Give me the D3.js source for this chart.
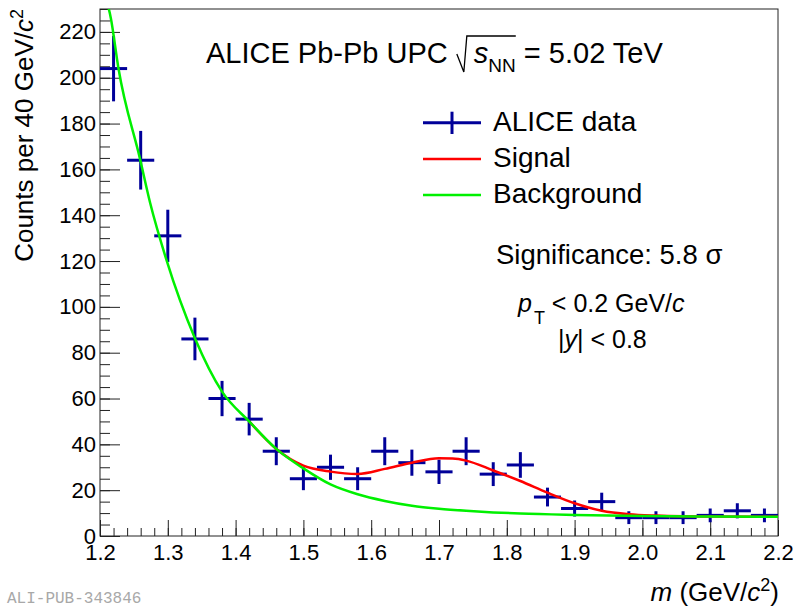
<!DOCTYPE html>
<html>
<head>
<meta charset="utf-8">
<script src="https://cdn.jsdelivr.net/npm/d3@7"></script>
<style>
  body { margin: 0; background: #fff; }
  text { font-family: "Liberation Sans", Arial, Helvetica, sans-serif; fill: #000; }
</style>
</head>
<body>
<div id="chart"></div>
<script>
// bin centres (GeV/c^2), counts and stat. errors
var binCenters = [1.22, 1.26, 1.30, 1.34, 1.38, 1.42, 1.46, 1.50, 1.54, 1.58, 1.62, 1.66, 1.70,
                  1.74, 1.78, 1.82, 1.86, 1.90, 1.94, 1.98, 2.02, 2.06, 2.10, 2.14, 2.18];
var counts = [204, 164, 131, 86, 60, 51, 37, 25, 30, 25, 37, 32, 28,
              37, 27, 31, 17, 12, 15, 8, 8, 8, 9, 11, 9];
var countErrors = [14.3, 12.8, 11.4, 9.3, 7.7, 7.1, 6.1, 5.0, 5.5, 5.0, 6.1, 5.7, 5.3,
                   6.1, 5.2, 5.6, 4.1, 3.5, 3.9, 2.8, 2.8, 2.8, 3.0, 3.3, 3.0];
var binHalfWidth = 0.02;

// fitted curves
var bgMass  = [1.200, 1.216, 1.227, 1.259, 1.274, 1.298, 1.340, 1.380, 1.420, 1.460, 1.500, 1.540,
               1.580, 1.620, 1.660, 1.700, 1.740, 1.780, 1.820, 1.900, 2.000, 2.100, 2.200];
var bgValue = [240, 226, 204.5, 164.6, 145.3, 120.5, 86.3, 63, 50, 38, 29.5, 22.5,
               18.2, 15.3, 13.2, 11.9, 11.0, 10.3, 9.8, 9.2, 8.7, 8.5, 8.4];
var sigMass  = [1.420, 1.460, 1.500, 1.540, 1.580, 1.620, 1.660, 1.700, 1.720, 1.740, 1.780,
                1.820, 1.860, 1.900, 1.940, 1.980, 2.020, 2.060, 2.100, 2.200];
var sigValue = [50, 38, 30.7, 28.1, 27.1, 29.3, 32.0, 33.9, 33.8, 32.9, 28.6,
                24.0, 18.9, 14.3, 11.0, 9.5, 8.9, 8.6, 8.5, 8.4];

var xMajorTicks = [1.2, 1.3, 1.4, 1.5, 1.6, 1.7, 1.8, 1.9, 2.0, 2.1, 2.2];
var yMajorTicks = [0, 20, 40, 60, 80, 100, 120, 140, 160, 180, 200, 220];
var legendLabels = ["ALICE data", "Signal", "Background"];

var svgWidth = 797;
var svgHeight = 608;
var plotLeft = 100;
var plotRight = 778;
var plotTop = 9;
var plotBottom = 536;

var dataColor = "#000099";
var sigColor = "#ff0000";
var bgColor = "#00f000";

var svg = d3.select("#chart")
    .append("svg")
    .attr("width", svgWidth)
    .attr("height", svgHeight);

var xScale = d3.scaleLinear().domain([1.2, 2.2]).range([plotLeft, plotRight]);
var yScale = d3.scaleLinear().domain([0, 230]).range([plotBottom, plotTop]);

svg.append("clipPath")
    .attr("id", "plotClip")
    .append("rect")
    .attr("x", plotLeft)
    .attr("y", plotTop)
    .attr("width", plotRight - plotLeft)
    .attr("height", plotBottom - plotTop);

// minor ticks
var xMinor = d3.range(0, 51).map(i => 1.2 + i * 0.02);
var yMinor = d3.range(0, 47).map(i => i * 5);

svg.append("g")
    .attr("transform", `translate(0,${plotBottom})`)
    .call(d3.axisBottom(xScale).tickValues(xMinor).tickSize(-8).tickFormat(""))
    .call(g => g.select(".domain").remove());
svg.append("g")
    .attr("transform", `translate(${plotLeft},0)`)
    .call(d3.axisLeft(yScale).tickValues(yMinor).tickSize(-10).tickFormat(""))
    .call(g => g.select(".domain").remove());

var xAxisGroup = svg.append("g")
    .attr("transform", `translate(0,${plotBottom})`)
    .call(d3.axisBottom(xScale).tickValues(xMajorTicks).tickSize(-16).tickPadding(8).tickFormat(d3.format(".1f")));
xAxisGroup.select(".domain").remove();
xAxisGroup.selectAll("text")
    .attr("y", 24)
    .attr("dy", 0)
    .style("font-size", "22px")
    .style("font-family", "Liberation Sans, Arial, sans-serif");

var yAxisGroup = svg.append("g")
    .attr("transform", `translate(${plotLeft},0)`)
    .call(d3.axisLeft(yScale).tickValues(yMajorTicks).tickSize(-20).tickPadding(4));
yAxisGroup.select(".domain").remove();
yAxisGroup.selectAll("text")
    .style("font-size", "22px")
    .style("font-family", "Liberation Sans, Arial, sans-serif");

svg.selectAll(".tick line").attr("stroke", "#222");

// frame
svg.append("rect")
    .attr("x", plotLeft)
    .attr("y", plotTop)
    .attr("width", plotRight - plotLeft)
    .attr("height", plotBottom - plotTop)
    .attr("fill", "none")
    .attr("stroke", "#222")
    .attr("stroke-width", 1);

var plotArea = svg.append("g").attr("clip-path", "url(#plotClip)");

// data crosses
var points = binCenters.map((m, i) => ({m: m, c: counts[i], e: countErrors[i]}));
var crosses = plotArea.append("g").selectAll("g")
    .data(points)
    .enter()
    .append("g");
crosses.append("line")
    .attr("x1", d => xScale(d.m - binHalfWidth))
    .attr("x2", d => xScale(d.m + binHalfWidth))
    .attr("y1", d => yScale(d.c))
    .attr("y2", d => yScale(d.c))
    .attr("stroke", dataColor)
    .attr("stroke-width", 3);
crosses.append("line")
    .attr("x1", d => xScale(d.m))
    .attr("x2", d => xScale(d.m))
    .attr("y1", d => yScale(d.c - d.e))
    .attr("y2", d => yScale(d.c + d.e))
    .attr("stroke", dataColor)
    .attr("stroke-width", 3);

var curve = d3.line()
    .x(d => xScale(d[0]))
    .y(d => yScale(d[1]))
    .curve(d3.curveMonotoneX);

plotArea.append("path")
    .datum(sigMass.map((m, i) => [m, sigValue[i]]))
    .attr("d", curve)
    .attr("fill", "none")
    .attr("stroke", sigColor)
    .attr("stroke-width", 2.5);

plotArea.append("path")
    .datum(bgMass.map((m, i) => [m, bgValue[i]]))
    .attr("d", curve)
    .attr("fill", "none")
    .attr("stroke", bgColor)
    .attr("stroke-width", 2.5);

// axis titles
var xTitle = svg.append("text")
    .attr("x", 779)
    .attr("y", 601)
    .attr("text-anchor", "end")
    .style("font-size", "26px");
xTitle.append("tspan").style("font-style", "italic").text("m");
xTitle.append("tspan").text(" (GeV/");
xTitle.append("tspan").style("font-style", "italic").text("c");
xTitle.append("tspan").attr("dy", -10).style("font-size", "18px").text("2");
xTitle.append("tspan").attr("dy", 10).text(")");

var yTitle = svg.append("text")
    .attr("transform", "translate(33,9) rotate(-90)")
    .attr("text-anchor", "end")
    .style("font-size", "26px");
yTitle.append("tspan").text("Counts per 40 GeV/");
yTitle.append("tspan").style("font-style", "italic").text("c");
yTitle.append("tspan").attr("dy", -10).style("font-size", "18px").text("2");

// header
var title = svg.append("text")
    .attr("x", 206)
    .attr("y", 63)
    .style("font-size", "29px");
title.append("tspan").text("ALICE Pb-Pb UPC ");
title.append("tspan").attr("dx", 18).style("font-style", "italic").text("s");
title.append("tspan").attr("dy", 9).style("font-size", "19px").text("NN");
title.append("tspan").attr("dy", -9).text(" = 5.02 TeV");

var sBox = title.node().getExtentOfChar(16);
var nnBox = title.node().getExtentOfChar(18);
svg.append("path")
    .attr("d", `M${sBox.x - 17},54 L${sBox.x - 10},72 L${sBox.x - 7},36 L${nnBox.x + nnBox.width},36`)
    .attr("fill", "none")
    .attr("stroke", "#000")
    .attr("stroke-width", 1.3);

// legend
var legendY = [122.7, 159, 195];
var legendColors = [dataColor, sigColor, bgColor];
var legend = svg.append("g");
legendLabels.forEach((label, i) => {
    legend.append("line")
        .attr("x1", 423).attr("x2", 481)
        .attr("y1", legendY[i]).attr("y2", legendY[i])
        .attr("stroke", legendColors[i])
        .attr("stroke-width", i == 0 ? 3 : 2.5);
    legend.append("text")
        .attr("x", 493)
        .attr("y", legendY[i] + 8)
        .style("font-size", "28px")
        .text(label);
});
legend.append("line")
    .attr("x1", 452).attr("x2", 452)
    .attr("y1", 111.7).attr("y2", 134)
    .attr("stroke", dataColor)
    .attr("stroke-width", 3);

svg.append("text")
    .attr("x", 496)
    .attr("y", 264)
    .style("font-size", "27.5px")
    .text("Significance: 5.8 \u03c3");

var ptText = svg.append("text")
    .attr("x", 518)
    .attr("y", 312)
    .style("font-size", "25px");
ptText.append("tspan").style("font-style", "italic").text("p");
ptText.append("tspan").attr("dx", 2).attr("dy", 12).style("font-size", "18px").text("T");
ptText.append("tspan").attr("dy", -12).text(" < 0.2 GeV/");
ptText.append("tspan").style("font-style", "italic").text("c");

var yText = svg.append("text")
    .attr("x", 558)
    .attr("y", 348)
    .style("font-size", "25px");
yText.append("tspan").text("|");
yText.append("tspan").style("font-style", "italic").text("y");
yText.append("tspan").text("| < 0.8");

svg.append("text")
    .attr("x", 7)
    .attr("y", 603)
    .style("font-family", "'Liberation Mono', 'DejaVu Sans Mono', monospace")
    .style("font-size", "16px")
    .style("fill", "#a8a8a8")
    .text("ALI-PUB-343846");
</script>
</body>
</html>
